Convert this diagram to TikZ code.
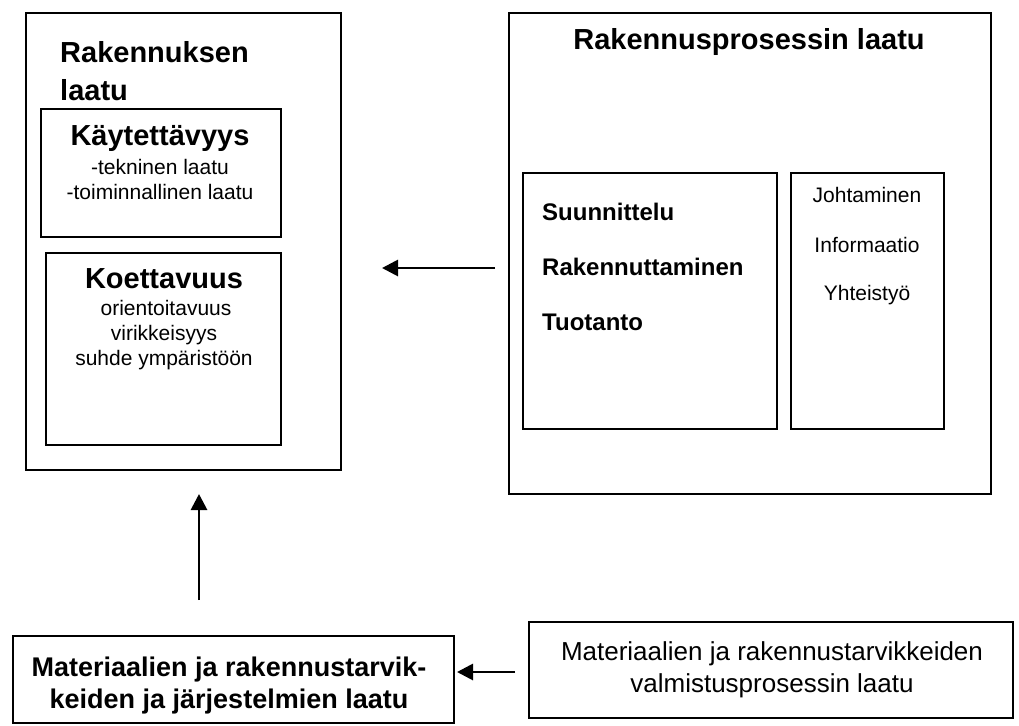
\documentclass[tikz,border=0pt]{standalone}
\usepackage{fontspec}
\setmainfont{Liberation Sans}
\usetikzlibrary{arrows.meta}
\tikzset{
  box/.style={draw, line width=1.6pt, rectangle, inner sep=0pt, anchor=north west},
  txt/.style={inner sep=0pt, anchor=base},
  txtl/.style={inner sep=0pt, anchor=base west},
  big/.style={font=\fontsize{29}{35}\selectfont\bfseries},
  med/.style={font=\fontsize{24}{29}\selectfont\bfseries},
  sm/.style={font=\fontsize{21}{25}\selectfont},
  arr/.style={line width=2.8pt, -{Triangle[length=16pt,width=16pt]}}
}
\begin{document}
\begin{tikzpicture}[x=1pt,y=-1pt]
\useasboundingbox[fill=white] (0,0) rectangle (1019,725);
% boxes
\node[box, minimum width=315pt, minimum height=457pt] (bldg) at (25,12) {};
\node[box, minimum width=240pt, minimum height=128pt] (kay) at (40,108) {};
\node[box, minimum width=235pt, minimum height=192pt] (koe) at (45,252) {};
\node[box, minimum width=482pt, minimum height=481pt] (proc) at (508,12) {};
\node[box, minimum width=254pt, minimum height=256pt] (suun) at (522,172) {};
\node[box, minimum width=153pt, minimum height=256pt] (joht) at (790,172) {};
\node[box, minimum width=441pt, minimum height=87pt] (mat) at (12,635) {};
\node[box, minimum width=484pt, minimum height=96pt] (valm) at (528,621) {};
% texts
\node[txtl, big] (t1) at (60,63) {Rakennuksen};
\node[txtl, big] (t2) at (60,100) {laatu};
\node[txt, big] (t3) at (160,145) {Käytettävyys};
\node[txt, sm] (t4) at (160,174) {-tekninen laatu};
\node[txt, sm] (t5) at (160,199) {-toiminnallinen laatu};
\node[txt, big] (t6) at (164,288) {Koettavuus};
\node[txt, sm] (t7) at (166,315) {orientoitavuus};
\node[txt, sm] (t8) at (164,340) {virikkeisyys};
\node[txt, sm] (t9) at (164,365) {suhde ympäristöön};
\node[txt, big] (t10) at (749,49) {Rakennusprosessin laatu};
\node[txtl, med] (t11) at (542,220) {Suunnittelu};
\node[txtl, med] (t12) at (542,275) {Rakennuttaminen};
\node[txtl, med] (t13) at (542,330) {Tuotanto};
\node[txt, sm] (t14) at (867,202) {Johtaminen};
\node[txt, sm] (t15) at (867,252) {Informaatio};
\node[txt, sm] (t16) at (867,300) {Yhteistyö};
\node[txt, font=\fontsize{27}{32}\selectfont\bfseries] (t17) at (229,676) {Materiaalien ja rakennustarvik-};
\node[txt, font=\fontsize{27}{32}\selectfont\bfseries] (t18) at (229,708) {keiden ja järjestelmien laatu};
\node[txt, font=\fontsize{26}{32}\selectfont] (t19) at (772,660) {Materiaalien ja rakennustarvikkeiden};
\node[txt, font=\fontsize{26}{32}\selectfont] (t20) at (772,692) {valmistusprosessin laatu};
% connectors
\coordinate (a1s) at (495,268);
\coordinate (a1e) at (382,268);
\coordinate (a2s) at (199,600);
\coordinate (a2e) at (199,494);
\coordinate (a3s) at (515,672);
\coordinate (a3e) at (457,672);
\draw[arr] (a1s) -- (a1e);
\draw[arr] (a2s) -- (a2e);
\draw[arr] (a3s) -- (a3e);
\end{tikzpicture}
\end{document}
